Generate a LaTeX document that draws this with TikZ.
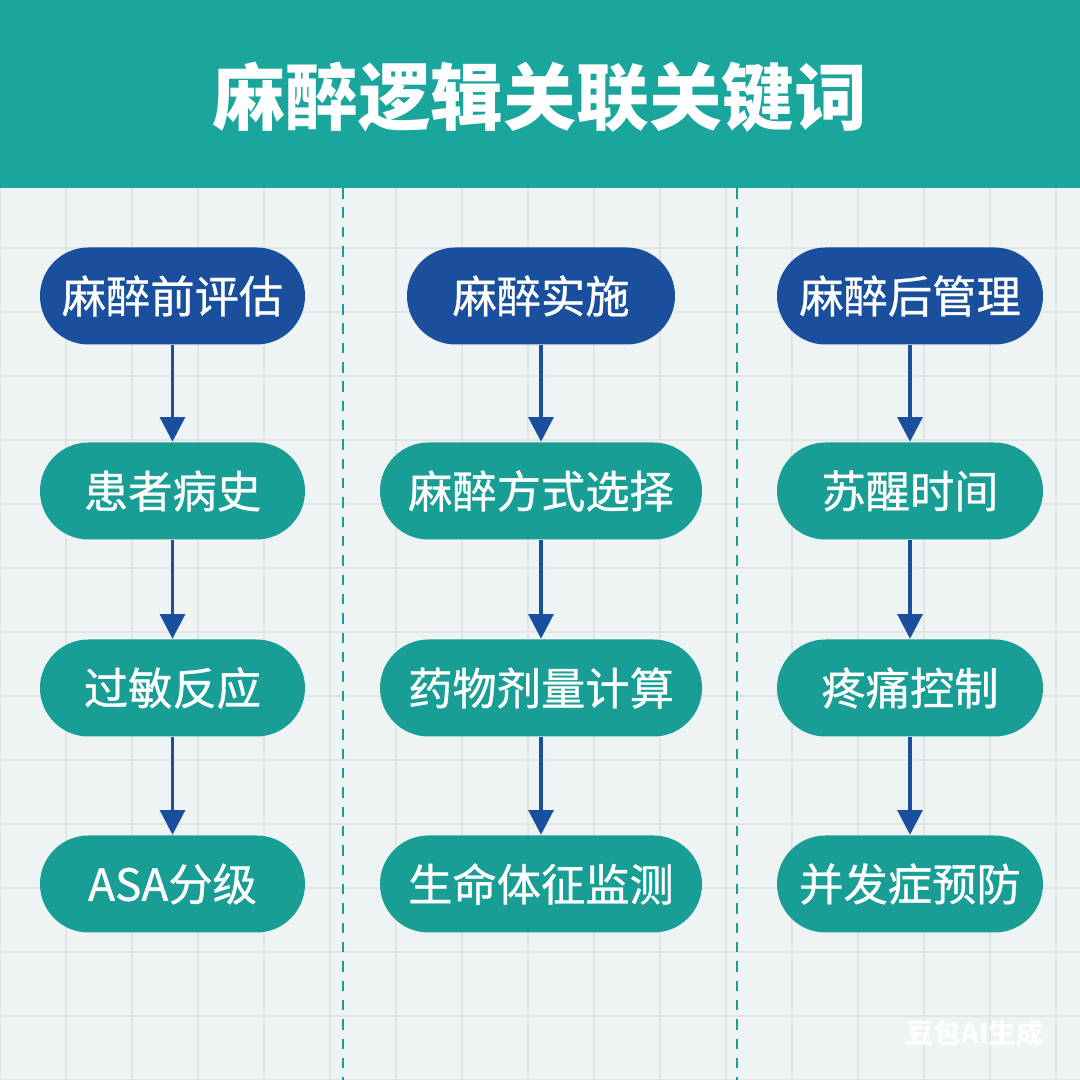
\documentclass[tikz,border=0pt]{standalone}
\usepackage{fontspec}
\usepackage{tikz}
\usetikzlibrary{arrows.meta}
\newfontfamily\cjk{Noto Sans CJK SC}
\newfontfamily\cjkm[FakeBold=0.7]{Noto Sans CJK SC}
\definecolor{teal1}{HTML}{1AA69D}
\definecolor{teal2}{HTML}{199E96}
\definecolor{azul}{HTML}{194F9C}
\definecolor{fondo}{HTML}{EEF3F3}
\definecolor{rejilla}{HTML}{E0E6E6}

\begin{document}
\begin{tikzpicture}[
  paso/.style={draw=none, fill=azul, rounded corners=0.485cm, minimum height=0.97cm, align=center, text=white, font=\cjkm\fontsize{12.6}{14}\selectfont},
  item/.style={paso, fill=teal2},
  flecha/.style={-{Triangle[length=7pt, width=7pt]}, azul, line width=1.1pt},
  divisor/.style={teal2, line width=0.6pt, dash pattern=on 3pt off 2.5pt}]
\useasboundingbox (0,0) rectangle (10.8,10.8);
\fill[fondo] (0,0) rectangle (10.8,10.8);
\draw[rejilla, line width=0.5pt, xstep=0.66, ystep=0.64] (0,0) grid (10.8,8.92);
\fill[teal1] (0,8.92) rectangle (10.8,10.8);
\node[text=white, font=\cjk\bfseries\fontsize{20.7}{24}\selectfont] (titulo) at (5.4,9.83) {麻醉逻辑关联关键词};
\draw[divisor] (3.43,8.92) -- (3.43,0);
\draw[divisor] (7.37,8.92) -- (7.37,0);
% columna 1
\node[paso, minimum width=2.65cm] (pre) at (1.725,7.84) {麻醉前评估};
\node[item, minimum width=2.65cm] (hist) at (1.725,5.89) {患者病史};
\node[item, minimum width=2.65cm] (aler) at (1.725,3.92) {过敏反应};
\node[item, minimum width=2.65cm] (asa) at (1.725,1.96) {ASA分级};
% columna 2
\node[paso, minimum width=2.68cm] (imp) at (5.41,7.84) {麻醉实施};
\node[item, minimum width=3.22cm] (modo) at (5.41,5.89) {麻醉方式选择};
\node[item, minimum width=3.22cm] (dosis) at (5.41,3.92) {药物剂量计算};
\node[item, minimum width=3.22cm] (vital) at (5.41,1.96) {生命体征监测};
% columna 3
\node[paso, minimum width=2.66cm] (post) at (9.10,7.84) {麻醉后管理};
\node[item, minimum width=2.66cm] (desp) at (9.10,5.89) {苏醒时间};
\node[item, minimum width=2.66cm] (dolor) at (9.10,3.92) {疼痛控制};
\node[item, minimum width=2.66cm] (compl) at (9.10,1.96) {并发症预防};
\draw[flecha] (pre) -- (hist);
\draw[flecha] (hist) -- (aler);
\draw[flecha] (aler) -- (asa);
\draw[flecha] (imp) -- (modo);
\draw[flecha] (modo) -- (dosis);
\draw[flecha] (dosis) -- (vital);
\draw[flecha] (post) -- (desp);
\draw[flecha] (desp) -- (dolor);
\draw[flecha] (dolor) -- (compl);
\node[text=white, text opacity=0.85, font=\cjk\bfseries\fontsize{7.8}{9}\selectfont] (marca) at (9.75,0.47) {豆包AI生成};
\end{tikzpicture}
\end{document}
